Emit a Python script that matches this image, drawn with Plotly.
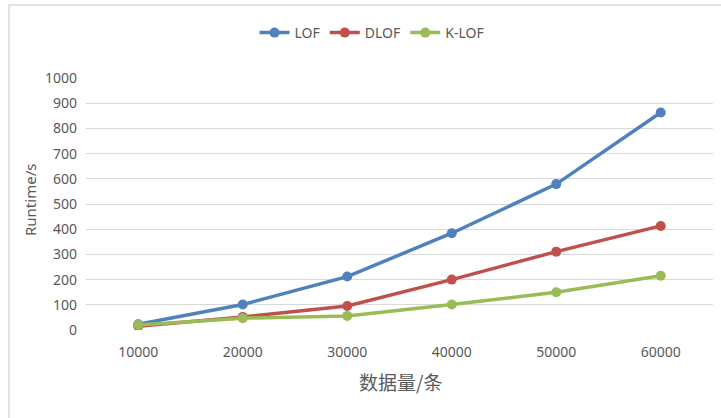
import plotly.graph_objects as go

categories = ["10000", "20000", "30000", "40000", "50000", "60000"]
lof = [23, 101, 212, 384, 579, 863]
dlof = [15, 52, 95, 200, 311, 413]
klof = [20, 47, 56, 101, 150, 215]
y_ticks = list(range(0, 1001, 100))

series = [
    ("LOF", lof, "#4F81BD"),
    ("DLOF", dlof, "#C0504D"),
    ("K-LOF", klof, "#9BBB59"),
]

W, H = 721, 418
ml, mr, mt, mb = 86, 8, 78, 88
pw, ph = W - ml - mr, H - mt - mb

fig = go.Figure()
for name, vals, color in series:
    fig.add_trace(go.Scatter(
        x=categories, y=vals, name=name, mode="lines+markers",
        line=dict(color=color, width=3.5),
        marker=dict(color=color, size=10),
    ))

def px_x(x):
    return (x - ml) / pw

def px_y(y):
    return (H - mb - y) / ph

fig.update_layout(
    width=W, height=H,
    margin=dict(l=ml, r=mr, t=mt, b=mb),
    paper_bgcolor="white", plot_bgcolor="white",
    font=dict(family="Noto Sans, Noto Sans CJK SC, sans-serif", size=14, color="#595959"),
    showlegend=True,
    legend=dict(orientation="h", x=px_x(372), xanchor="center", y=px_y(33), yanchor="middle",
                font=dict(size=14, color="#595959"), itemwidth=30, tracegroupgap=0),
    xaxis=dict(type="category", range=[-0.5, 5.5], showgrid=False, showline=False,
               zeroline=False, ticks="", tickfont=dict(size=14, color="#595959"),
               ticklabelstandoff=12),
    yaxis=dict(range=[0, 1000], tickvals=y_ticks, showgrid=True, gridcolor="#D9D9D9",
               gridwidth=1, zeroline=False, showline=False, ticks="",
               tickfont=dict(size=14, color="#595959"), ticklabelstandoff=8),
    shapes=[dict(type="rect", xref="paper", yref="paper",
                 x0=px_x(9), x1=px_x(W + 5), y0=px_y(H + 5), y1=px_y(5),
                 line=dict(color="#D9D9D9", width=1.5), fillcolor="rgba(0,0,0,0)", layer="below")],
    annotations=[
        dict(text="Runtime/s", xref="paper", yref="paper", x=px_x(30), y=px_y(200),
             textangle=-90, showarrow=False, xanchor="center", yanchor="middle",
             font=dict(size=15, color="#595959")),
        dict(text="数据量/条", xref="paper", yref="paper", x=px_x(400), y=px_y(381),
             showarrow=False, xanchor="center", yanchor="middle",
             font=dict(size=19, color="#595959", family="Noto Sans CJK SC")),
    ],
)

fig.write_html("out.html")
